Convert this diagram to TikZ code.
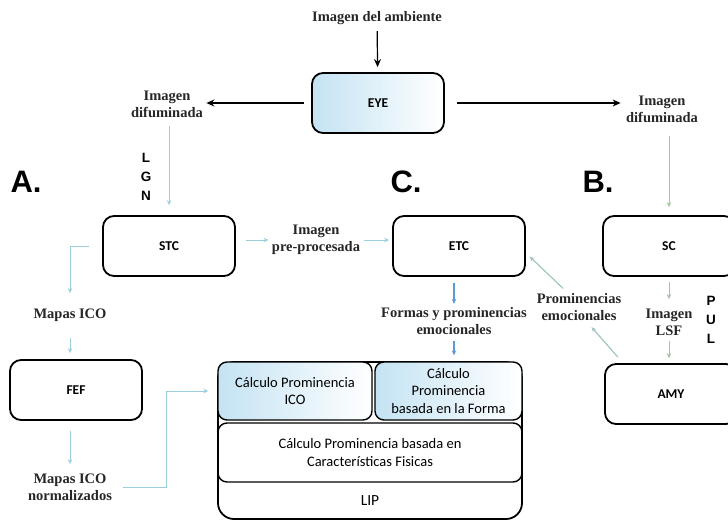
\documentclass[tikz,border=0pt]{standalone}
\usepackage{fontspec}
\setmainfont{Liberation Serif}
\newfontfamily\boxfont{Carlito}
\newfontfamily\headfont{Liberation Sans}
\usetikzlibrary{arrows.meta}
\definecolor{boxblue}{HTML}{C4E3F3}
\definecolor{cyanline}{HTML}{9BCFDC}
\definecolor{blueline}{HTML}{5A9BD5}
\definecolor{greenline}{HTML}{A7C4A4}
\definecolor{tealline}{HTML}{A0C6C2}
\begin{document}
\begin{tikzpicture}[x=1pt,y=-1pt,
  box/.style={draw, line width=1.8pt, rounded corners=11pt,
    minimum width=132pt, minimum height=60pt,
    font=\boxfont\bfseries\fontsize{13.5}{16}\selectfont},
  blueshade/.style={left color=boxblue, middle color=white, right color=white},
  part/.style={draw, line width=1.4pt, rounded corners=9pt, align=center,
    font=\boxfont\fontsize{14.5}{17.5}\selectfont},
  lbl/.style={font=\bfseries\fontsize{14.5}{17}\selectfont, align=center, text=black!85},
  letters/.style={font=\headfont\bfseries\fontsize{13.5}{19}\selectfont, align=center},
  panel/.style={font=\headfont\bfseries\fontsize{31}{34}\selectfont},
  blk/.style={-{Stealth[length=8pt,width=7pt]}, line width=1.2pt},
  thin/.style={-{Stealth[length=5pt,width=4.5pt]}, line width=0.9pt},
  cy/.style={thin, draw=cyanline},
  bl/.style={thin, draw=blueline, line width=1.2pt},
  gr/.style={thin, draw=greenline},
  tl/.style={thin, draw=tealline, line width=1.2pt}]
\useasboundingbox (0,0) rectangle (728,520);

% panel letters
\node[panel] (pa) at (26,182) {A.};
\node[panel] (pc) at (406,182) {C.};
\node[panel] (pb) at (598,182) {B.};

% eye and its outputs
\node[lbl] (amb) at (377,18) {Imagen del ambiente};
\node[box, blueshade] (eye) at (378,103) {EYE};
\node[lbl] (difL) at (167,104) {Imagen\\difuminada};
\node[lbl] (difR) at (662,109) {Imagen\\difuminada};
\draw[blk, shorten <=3pt, shorten >=5pt] (amb) -- (eye);
\draw[blk, shorten <=7pt] (eye.west) -- (eye.west -| difL.east);
\draw[blk, shorten <=12pt, shorten >=2pt] (eye.east) -- (eye.east -| difR.west);

% branch A
\node[letters] (lgn) at (146,177) {L\\G\\N};
\node[box] (stc) at (169,246) {STC};
\draw[cy, shorten <=5pt, shorten >=10pt] (difL.south -| stc.north) -- (stc.north);
\node[lbl] (mapas) at (70,315) {Mapas ICO};
\draw[cy, shorten >=12pt] ([xshift=-13pt]stc.west) -| (mapas.north);
\node[box] (fef) at (76,390) {FEF};
\draw[cy, shorten <=13pt, shorten >=6pt] (mapas.south) -- (mapas.south |- fef.north);
\node[lbl] (mapasN) at (70,487) {Mapas ICO\\normalizados};
\draw[cy, shorten <=10pt, shorten >=6pt] (mapasN.north |- fef.south) -- (mapasN.north);

% LIP block
\node[draw, line width=1.8pt, rounded corners=16pt, minimum width=304pt,
  minimum height=157pt] (lip) at (370,440.5) {};
\node[part, blueshade, minimum width=154pt, minimum height=58pt] (ico) at (295,391)
  {Cálculo Prominencia\\ICO};
\node[part, blueshade, minimum width=147pt, minimum height=58pt] (fst) at (448.5,391)
  {Cálculo\\Prominencia\\basada en la Forma};
\node[part, minimum width=304pt, minimum height=59pt] (fis) at (370,452.5)
  {Cálculo Prominencia basada en\\Características Fisicas};
\node[font=\boxfont\fontsize{15.5}{18}\selectfont] (liptxt) at (370,501) {LIP};
\coordinate (bend) at (166,0);
\draw[cy, shorten <=8pt, shorten >=9pt] (mapasN.east) -- (mapasN.east -| bend) |- (ico.west);

% branch C
\node[lbl] (pre) at (316,240) {Imagen\\pre-procesada};
\node[box] (etc) at (459,246) {ETC};
\draw[cy, shorten <=10pt] (pre.west -| stc.east) -- (pre.west);
\draw[cy, shorten >=3pt] (pre.east) -- (pre.east -| etc.west);
\node[lbl] (formas) at (454,321) {Formas y prominencias\\emocionales};
\draw[bl, shorten <=6pt] (formas.north |- etc.south) -- (formas.north);
\draw[bl, shorten <=3pt, shorten >=6pt] (formas.south) -- (formas.south |- fst.north);

% branch B
\node[box] (sc) at (669,246) {SC};
\node[box] (amy) at (671,394) {AMY};
\draw[gr, shorten <=10pt, shorten >=8pt] (difR.south -| sc.north) -- (sc.north);
\node[lbl] (lsf) at (669,322) {Imagen\\LSF};
\node[letters] (pul) at (711,320) {P\\U\\L};
\draw[gr, shorten <=5pt, shorten >=6pt] (sc.south) -- (sc.south |- lsf.north);
\draw[gr, shorten <=2pt, shorten >=5pt] (lsf.south) -- (lsf.south |- amy.north);

% emotional saliency back to ETC
\node[lbl] (prom) at (579,307) {Prominencias\\emocionales};
\draw[tl, shorten <=2pt, shorten >=5pt] (prom.130) -- (etc.-6);
\draw[tl, shorten <=8pt, shorten >=4pt] ([xshift=19pt]amy.north west) -- (prom.-60);
\end{tikzpicture}
\end{document}
